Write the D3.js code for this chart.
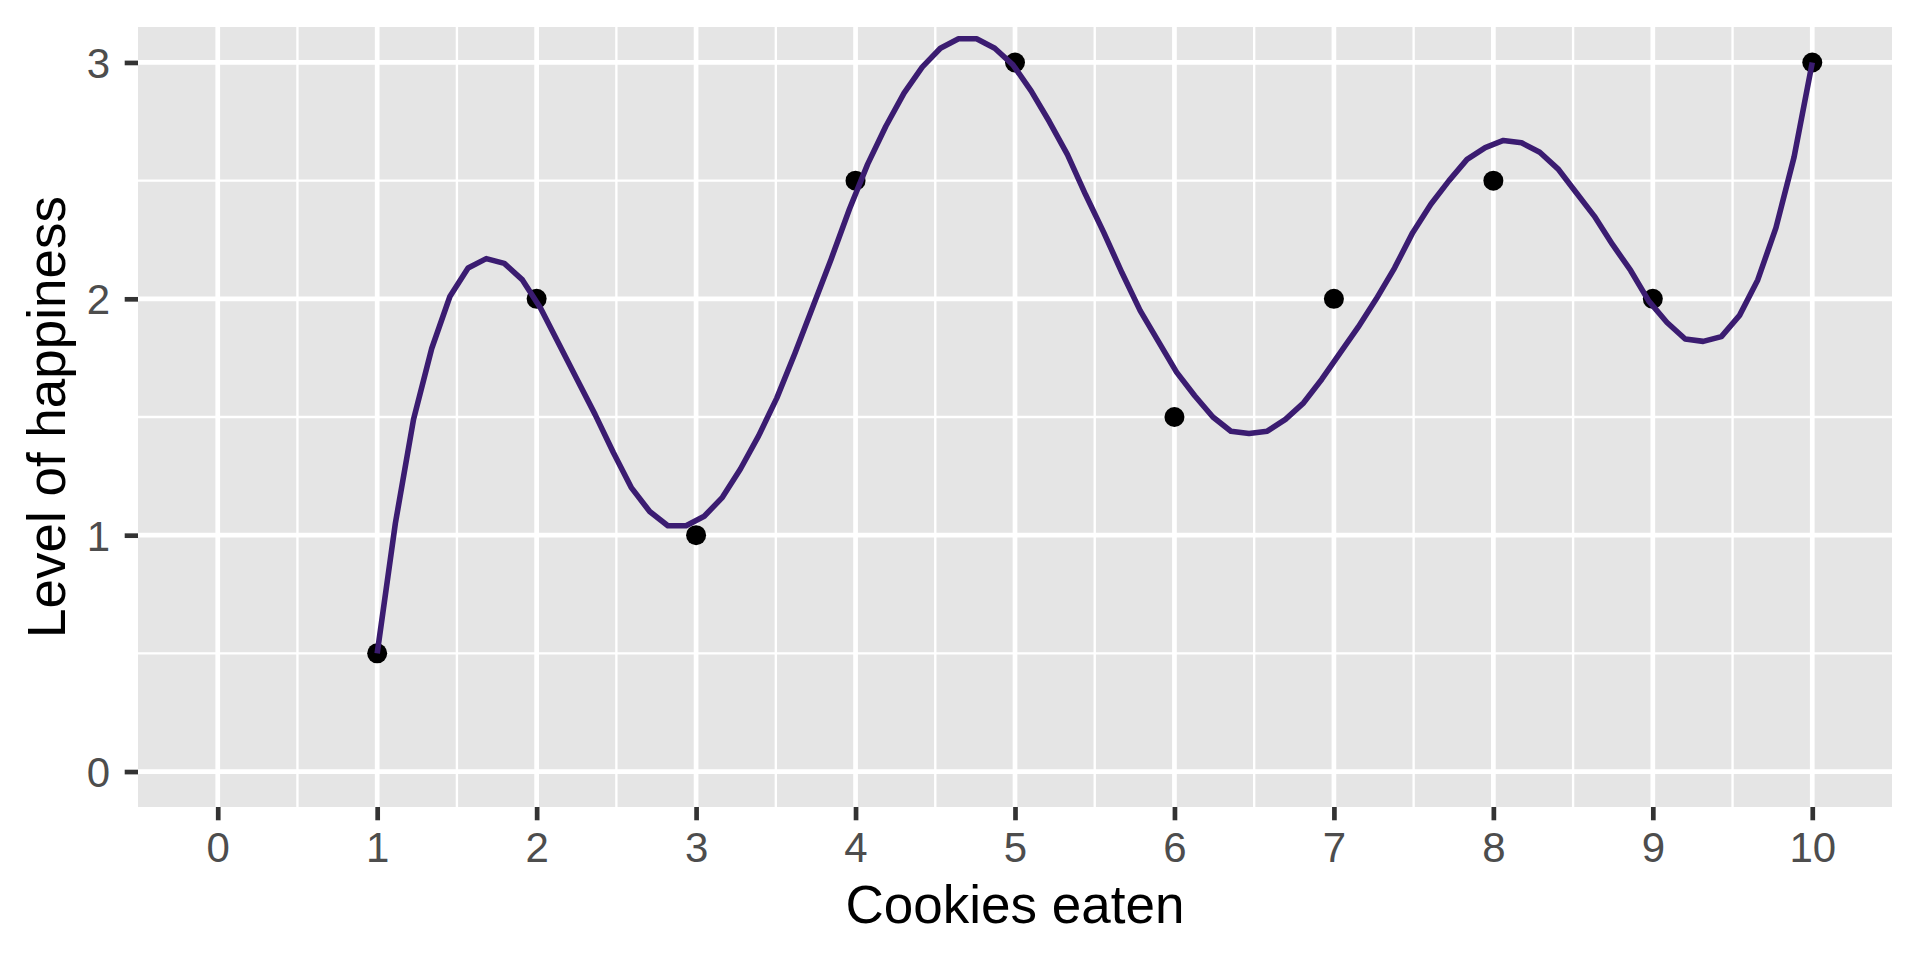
<!DOCTYPE html>
<html>
<head>
<meta charset="utf-8">
<script src="https://cdn.jsdelivr.net/npm/d3@7/dist/d3.min.js"></script>
<style>
  html, body { margin: 0; padding: 0; background: #ffffff; }
  svg { display: block; font-family: "Liberation Sans", Arial, sans-serif; }
</style>
</head>
<body>
<div id="chart"></div>
<script>
// observed points
const cookies = [1, 2, 3, 4, 5, 6, 7, 8, 9, 10];
const happiness = [0.5, 2, 1, 2.5, 3, 1.5, 2, 2.5, 2, 3];

// smoothed curve, read vertex by vertex off the picture
const curveX = [
  1.000, 1.114, 1.228, 1.342, 1.456, 1.570, 1.684, 1.797, 1.911, 2.025,
  2.139, 2.253, 2.367, 2.481, 2.595, 2.709, 2.823, 2.937, 3.051, 3.165,
  3.278, 3.392, 3.506, 3.620, 3.734, 3.848, 3.962, 4.076, 4.190, 4.304,
  4.418, 4.532, 4.646, 4.759, 4.873, 4.987, 5.101, 5.215, 5.329, 5.443,
  5.557, 5.671, 5.785, 5.899, 6.013, 6.127, 6.241, 6.354, 6.468, 6.582,
  6.696, 6.810, 6.924, 7.038, 7.152, 7.266, 7.380, 7.494, 7.608, 7.722,
  7.835, 7.949, 8.063, 8.177, 8.291, 8.405, 8.519, 8.633, 8.747, 8.861,
  8.975, 9.089, 9.203, 9.316, 9.430, 9.544, 9.658, 9.772, 9.886, 10.000,
];
const curveY = [
  0.50, 1.05, 1.49, 1.79, 2.01, 2.13, 2.17, 2.15, 2.08, 1.96,
  1.81, 1.66, 1.51, 1.35, 1.20, 1.10, 1.04, 1.04, 1.08, 1.16,
  1.28, 1.42, 1.58, 1.77, 1.97, 2.17, 2.38, 2.57, 2.73, 2.87,
  2.98, 3.06, 3.10, 3.10, 3.06, 2.99, 2.88, 2.75, 2.61, 2.44,
  2.28, 2.11, 1.95, 1.82, 1.69, 1.59, 1.50, 1.44, 1.43, 1.44,
  1.49, 1.56, 1.66, 1.77, 1.88, 2.00, 2.13, 2.28, 2.40, 2.50,
  2.59, 2.64, 2.67, 2.66, 2.62, 2.55, 2.45, 2.35, 2.23, 2.12,
  1.99, 1.90, 1.83, 1.82, 1.84, 1.93, 2.08, 2.30, 2.60, 3.00,
];

const xTicks = [0, 1, 2, 3, 4, 5, 6, 7, 8, 9, 10];
const yTicks = [0, 1, 2, 3];
const xMinor = [0.5, 1.5, 2.5, 3.5, 4.5, 5.5, 6.5, 7.5, 8.5, 9.5];
const yMinor = [0.5, 1.5, 2.5];

const WIDTH = 1920;
const HEIGHT = 960;
const MARGIN = {top: 27, right: 28, bottom: 153, left: 138};
const PANEL_W = WIDTH - MARGIN.left - MARGIN.right;
const PANEL_H = HEIGHT - MARGIN.top - MARGIN.bottom;
const MAJOR_W = 4.7;
const MINOR_W = 2.35;
const TICK_LEN = 13.3;
const LINE_COLOR = '#3b1c71';

const x = d3.scaleLinear().domain([-0.5, 10.5]).range([0, PANEL_W]);
const y = d3.scaleLinear().domain([-0.15, 3.15]).range([PANEL_H, 0]);

const svg = d3.select('#chart')
    .append('svg')
    .attr('width', WIDTH)
    .attr('height', HEIGHT);

const panel = svg.append('g')
    .attr('transform', `translate(${MARGIN.left},${MARGIN.top})`);

// grey background
panel.append('rect')
    .attr('width', PANEL_W)
    .attr('height', PANEL_H)
    .attr('fill', '#e5e5e5');

/**
 * Draws one set of grid lines.
 * @param {!Array<number>} values
 * @param {boolean} vertical
 * @param {number} width
 */
function drawGrid(values, vertical, width) {
  panel.append('g')
      .selectAll('line')
      .data(values)
      .join('line')
      .attr('x1', d => vertical ? x(d) : 0)
      .attr('x2', d => vertical ? x(d) : PANEL_W)
      .attr('y1', d => vertical ? 0 : y(d))
      .attr('y2', d => vertical ? PANEL_H : y(d))
      .attr('stroke', '#ffffff')
      .attr('stroke-width', width);
}

drawGrid(xMinor, true, MINOR_W);
drawGrid(yMinor, false, MINOR_W);
drawGrid(xTicks, true, MAJOR_W);
drawGrid(yTicks, false, MAJOR_W);

// the points
panel.append('g')
    .selectAll('circle')
    .data(cookies)
    .join('circle')
    .attr('cx', d => x(d))
    .attr('cy', (d, i) => y(happiness[i]))
    .attr('r', 10)
    .attr('fill', '#000000');

// the smoothed line, drawn over the points
const line = d3.line()
    .x(d => x(d[0]))
    .y(d => y(d[1]));

panel.append('path')
    .datum(curveX.map((d, i) => [d, curveY[i]]))
    .attr('d', line)
    .attr('fill', 'none')
    .attr('stroke', LINE_COLOR)
    .attr('stroke-width', 5.6)
    .attr('stroke-linejoin', 'round');

// axes
const xAxis = panel.append('g')
    .attr('transform', `translate(0,${PANEL_H})`)
    .call(d3.axisBottom(x)
              .tickValues(xTicks)
              .tickSize(TICK_LEN)
              .tickPadding(11.9)
              .tickFormat(d3.format('d')));

const yAxis = panel.append('g')
    .call(d3.axisLeft(y)
              .tickValues(yTicks)
              .tickSize(TICK_LEN)
              .tickPadding(14.7)
              .tickFormat(d3.format('d')));

for (const axis of [xAxis, yAxis]) {
  axis.select('.domain').remove();
  axis.selectAll('.tick line')
      .attr('stroke', '#333333')
      .attr('stroke-width', MAJOR_W);
  axis.selectAll('.tick text')
      .attr('fill', '#4d4d4d')
      .style('font-size', '42px');
}
yAxis.selectAll('.tick text').attr('dy', '0.36em');

// axis titles
svg.append('text')
    .attr('x', MARGIN.left + PANEL_W / 2)
    .attr('y', 923)
    .attr('text-anchor', 'middle')
    .attr('fill', '#000000')
    .style('font-size', '53px')
    .text('Cookies eaten');

svg.append('text')
    .attr('transform', `translate(65,${MARGIN.top + PANEL_H / 2}) rotate(-90)`)
    .attr('text-anchor', 'middle')
    .attr('fill', '#000000')
    .style('font-size', '53px')
    .text('Level of happiness');
</script>
</body>
</html>
